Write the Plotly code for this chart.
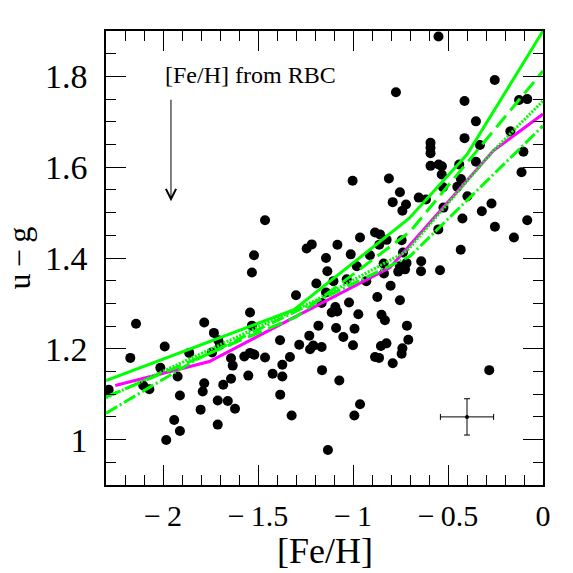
import plotly.graph_objects as go

feh = [-0.550, -0.774, -0.254, -0.413, -0.126, -0.083, -0.353, -0.413, -0.172, -0.332,
       -0.592, -0.592, -0.592, -0.103, -0.592, -0.549, -0.532, -0.441, -0.353, -0.113,
       -1.002, -0.811, -0.533, -0.432, -0.753, -0.526, -0.451, -0.398, -0.654, -0.616,
       -0.791, -0.721, -0.740, -0.524, -0.271, -0.322, -0.424, -0.083, -0.253, -0.153,
       -0.433, -1.463, -1.244, -1.217, -1.521, -1.532, -1.193, -1.300, -1.082, -0.963,
       -0.884, -0.858, -0.823, -0.744, -1.142, -1.012, -0.911, -0.737, -0.980, -1.135,
       -0.839, -0.837, -0.753, -0.718, -0.726, -0.762, -0.641, -0.642, -0.542, -0.551,
       -1.103, -1.033, -0.930, -0.802, -0.872, -0.753, -1.021, -1.142, -1.165, -1.093,
       -1.083, -1.112, -0.972, -0.850, -0.832, -1.182, -1.089, -0.992, -0.716, -1.230,
       -1.384, -1.283, -1.209, -1.165, -1.226, -1.051, -1.000, -0.853, -0.824, -0.740,
       -0.744, -0.709, -1.524, -1.463, -1.372, -1.332, -0.884, -0.863, -0.791, -1.163,
       -1.423, -1.372, -1.072, -1.383, -1.323, -0.963, -0.993, -1.132, -0.283, -2.142,
       -1.783, -1.542, -1.532, -1.732, -1.991, -1.709, -1.700, -1.862, -1.742, -2.172,
       -1.572, -1.542, -1.519, -1.642, -1.633, -2.014, -1.923, -1.551, -1.642, -1.783,
       -1.791, -1.683, -2.286, -2.104, -2.072, -1.911, -1.712, -1.659, -1.621, -1.802,
       -1.941, -1.911, -1.712, -1.983, -0.862]
ug = [1.888, 1.765, 1.792, 1.746, 1.748, 1.750, 1.701, 1.664, 1.679, 1.649,
      1.654, 1.643, 1.631, 1.634, 1.603, 1.606, 1.602, 1.606, 1.612, 1.589,
      1.570, 1.575, 1.584, 1.574, 1.545, 1.556, 1.557, 1.536, 1.533, 1.529,
      1.523, 1.518, 1.504, 1.511, 1.520, 1.503, 1.487, 1.483, 1.469, 1.445,
      1.418, 1.483, 1.421, 1.430, 1.406, 1.368, 1.344, 1.318, 1.429, 1.445,
      1.456, 1.452, 1.440, 1.439, 1.400, 1.408, 1.406, 1.412, 1.382, 1.371,
      1.388, 1.366, 1.382, 1.389, 1.375, 1.370, 1.393, 1.371, 1.373, 1.463,
      1.349, 1.353, 1.349, 1.339, 1.314, 1.307, 1.302, 1.324, 1.301, 1.292,
      1.282, 1.280, 1.276, 1.275, 1.263, 1.251, 1.246, 1.244, 1.251, 1.229,
      1.219, 1.209, 1.207, 1.204, 1.199, 1.226, 1.208, 1.206, 1.212, 1.201,
      1.189, 1.220, 1.188, 1.181, 1.165, 1.182, 1.182, 1.180, 1.168, 1.153,
      1.145, 1.139, 1.130, 1.099, 1.053, 1.078, 1.053, 0.977, 1.153, 1.255,
      1.258, 1.280, 1.251, 1.235, 1.205, 1.219, 1.209, 1.191, 1.192, 1.180,
      1.183, 1.191, 1.187, 1.179, 1.163, 1.158, 1.139, 1.141, 1.134, 1.124,
      1.106, 1.121, 1.110, 1.119, 1.111, 1.097, 1.086, 1.085, 1.068, 1.066,
      1.043, 1.019, 1.033, 0.999, 1.429]

# model curves
solid_x = [-2.3, -1.31, -0.705, -0.40, 0.0]
solid_y = [1.130, 1.286, 1.487, 1.628, 1.900]
dash_x = [-2.3, -1.3, -0.7, 0.0]
dash_y = [1.094, 1.270, 1.458, 1.812]
dot_x = [-2.3, -1.191, -0.717, -0.262, 0.0]
dot_y = [1.092, 1.308, 1.415, 1.636, 1.746]
mag_x = [-2.251, -1.756, -0.805, -0.262, 0.0]
mag_y = [1.119, 1.172, 1.379, 1.636, 1.717]
dd_x = [-2.3, -1.826, -0.7, 0.0]
dd_y = [1.058, 1.176, 1.404, 1.691]

# typical error bar
err_x = [-0.40]
err_y = [1.05]
err_dx = [0.14]
err_dy = [0.04]

x_ticks = [-2, -1.5, -1, -0.5, 0]
x_ticktext = ["\u2212\u20092", "\u2212\u20091.5", "\u2212\u20091", "\u2212\u20090.5", "0"]
y_ticks = [1, 1.2, 1.4, 1.6, 1.8]
y_ticktext = ["1", "1.2", "1.4", "1.6", "1.8"]

GREEN = "#00ff00"
MAG = "#ff00ff"
FONT = "Liberation Serif"

fig = go.Figure()
fig.add_trace(go.Scatter(x=feh, y=ug, mode="markers",
                         marker=dict(color="black", size=10, line=dict(width=0)),
                         showlegend=False))
fig.add_trace(go.Scatter(x=err_x, y=err_y, mode="markers",
                         marker=dict(color="black", size=4),
                         error_x=dict(type="data", array=err_dx, color="black", thickness=1, width=3),
                         error_y=dict(type="data", array=err_dy, color="black", thickness=1, width=3),
                         showlegend=False))
fig.add_trace(go.Scatter(x=mag_x, y=mag_y, mode="lines",
                         line=dict(color=MAG, width=3), showlegend=False))
fig.add_trace(go.Scatter(x=dd_x, y=dd_y, mode="lines",
                         line=dict(color=GREEN, width=3, dash="13px,3px,2px,3px"), showlegend=False))
fig.add_trace(go.Scatter(x=dot_x, y=dot_y, mode="lines",
                         line=dict(color=GREEN, width=3, dash="2px,1.5px"), showlegend=False))
fig.add_trace(go.Scatter(x=dash_x, y=dash_y, mode="lines",
                         line=dict(color=GREEN, width=3, dash="15px,7px"), showlegend=False))
fig.add_trace(go.Scatter(x=solid_x, y=solid_y, mode="lines",
                         line=dict(color=GREEN, width=3), showlegend=False))

axis_common = dict(showline=True, linecolor="black", linewidth=1.5, mirror="allticks",
                   ticks="inside", tickcolor="black", tickwidth=1, ticklen=20,
                   showgrid=False, zeroline=False)

fig.update_xaxes(range=[-2.3, 0.0], tickvals=x_ticks, ticktext=x_ticktext,
                 tickfont=dict(family=FONT, size=30, color="black"),
                 minor=dict(dtick=0.1, tick0=0, ticks="inside", ticklen=10, tickcolor="black", tickwidth=1),
                 ticklabelstandoff=3, **axis_common)
fig.update_yaxes(range=[0.9, 1.9], tickvals=y_ticks, ticktext=y_ticktext,
                 tickfont=dict(family=FONT, size=34, color="black"),
                 minor=dict(dtick=0.05, tick0=0, ticks="inside", ticklen=10, tickcolor="black", tickwidth=1),
                 ticklabelstandoff=10, **axis_common)

fig.update_layout(
    width=573, height=573,
    margin=dict(l=106, r=30, t=31, b=88),
    paper_bgcolor="white", plot_bgcolor="white",
    annotations=[
        dict(text="[Fe/H]", xref="paper", yref="paper", x=0.501, y=-0.145,
             xanchor="center", yanchor="middle", showarrow=False,
             font=dict(family=FONT, size=36, color="black")),
        dict(text="u\u2009\u2212\u2009g", xref="paper", yref="paper", x=-0.2, y=0.5,
             xanchor="center", yanchor="middle", textangle=-90, showarrow=False,
             font=dict(family=FONT, size=32, color="black")),
        dict(text="[Fe/H] from RBC", xref="x", yref="y", x=-2.0, y=1.804,
             xanchor="left", yanchor="middle", showarrow=False,
             font=dict(family=FONT, size=24, color="black")),
        dict(text="", xref="x", yref="y", x=-1.958, y=1.525, ax=-1.958, ay=1.752,
             axref="x", ayref="y", showarrow=True, arrowhead=5, arrowsize=2,
             arrowwidth=1, arrowcolor="black"),
    ],
)

fig.write_html("out.html", config={"displayModeBar": False},
               post_script="document.body.style.margin='0';document.body.style.padding='0';")
